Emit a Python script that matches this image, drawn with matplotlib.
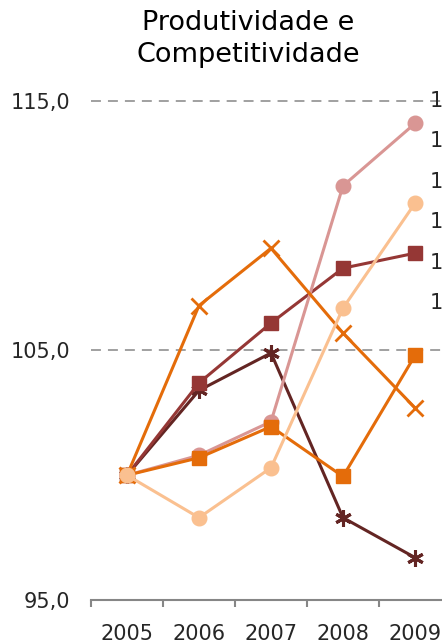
import matplotlib.pyplot as plt

years = ["2005", "2006", "2007", "2008", "2009"]

# series values
s_rosa = [100.0, 100.8, 102.15, 111.6, 114.1]
s_pessego = [100.0, 98.3, 100.3, 106.7, 110.9]
s_vermelho = [100.0, 103.7, 106.1, 108.3, 108.9]
s_laranja_q = [100.0, 100.7, 101.95, 99.95, 104.8]
s_laranja_x = [100.0, 106.8, 109.1, 105.7, 102.7]
s_marrom = [100.0, 103.4, 104.9, 98.3, 96.7]

yticks = [95, 105, 115]
ytick_labels = ["95,0", "105,0", "115,0"]
legend_labels = ["1", "1", "1", "1", "1", "1"]

plt.rcParams['font.family'] = ['DejaVu Sans']

fig = plt.figure(figsize=(4.42, 6.43), dpi=100)
ax = fig.add_axes([91/442, 1-600/643, 360/442, 499/643])

x = list(range(len(years)))
lw = 2.2
ax.plot(x, s_marrom, color="#632523", lw=lw, marker=(6, 2, 0), ms=12, mew=2.2, zorder=3)
ax.plot(x, s_vermelho, color="#953735", lw=lw, marker="s", ms=10.5, zorder=4)
ax.plot(x, s_rosa, color="#D99694", lw=lw, marker="o", ms=10.5, zorder=5)
ax.plot(x, s_laranja_q, color="#E46C0A", lw=lw, marker="s", ms=10.5, zorder=6)
ax.plot(x, s_laranja_x, color="#E46C0A", lw=lw, marker="x", ms=11, mew=2, zorder=6)
ax.plot(x, s_pessego, color="#FAC090", lw=lw, marker="o", ms=10.5, zorder=7)

ax.set_xlim(-0.5, len(years) - 0.5)
ax.set_ylim(95, 115)
ax.set_yticks(yticks)
ax.set_yticklabels(ytick_labels, fontsize=15)
ax.tick_params(axis="y", length=0, pad=15, colors="#262626")
ax.set_xticks(x)
ax.set_xticklabels(years, fontsize=15)
ax.set_xticks([i - 0.5 for i in x] + [len(years) - 0.5], minor=True)
ax.tick_params(axis="x", which="major", length=0, pad=17, colors="#262626")
ax.tick_params(axis="x", which="minor", length=5, width=1.5, color="#868686")

for v in yticks[1:]:
    ax.axhline(v, color="#868686", lw=1.1, dashes=(6.5, 4.6), zorder=1, clip_on=False)

for s in ["top", "right", "left"]:
    ax.spines[s].set_visible(False)
ax.spines["bottom"].set_color("#868686")
ax.spines["bottom"].set_linewidth(1.5)

fig.text(248/442, 1-39/643, "Produtividade e\nCompetitividade", ha="center", va="center",
         fontsize=19.5, color="#000000", linespacing=1.3)

for i, lab in enumerate(legend_labels):
    fig.text(430/442, 1-(101 + 40.4*i)/643, lab, ha="left", va="center", fontsize=15, color="#262626")

plt.savefig("out.png", dpi=100)
